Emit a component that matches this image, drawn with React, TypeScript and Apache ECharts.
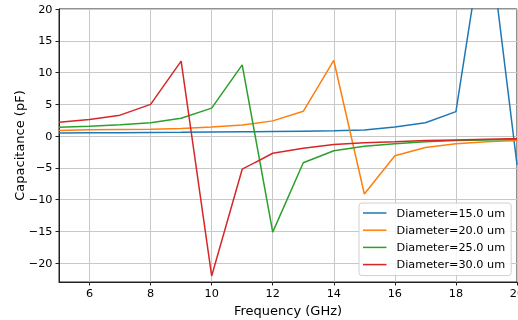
import React, { useEffect, useRef } from "react";
import * as echarts from "echarts";

const freq = [5, 6, 7, 8, 9, 10, 11, 12, 13, 14, 15, 16, 17, 18, 19, 20];
const d15 = [0.5, 0.52, 0.55, 0.58, 0.6, 0.63, 0.67, 0.72, 0.78, 0.86, 0.98, 1.45, 2.1, 3.85, 34.7, -4.5];
const d20 = [0.9, 1.0, 1.05, 1.1, 1.2, 1.45, 1.75, 2.4, 3.9, 11.9, -9.1, -3.1, -1.8, -1.2, -0.9, -0.7];
const d25 = [1.4, 1.55, 1.8, 2.1, 2.8, 4.4, 11.2, -15.1, -4.2, -2.3, -1.6, -1.2, -0.9, -0.7, -0.6, -0.5];
const d30 = [2.2, 2.6, 3.3, 5.0, 11.8, -22.0, -5.2, -2.7, -1.9, -1.3, -1.05, -0.9, -0.7, -0.6, -0.5, -0.4];
const seriesNames = ["Diameter=15.0 um", "Diameter=20.0 um", "Diameter=25.0 um", "Diameter=30.0 um"];
const colors = ["#1f77b4", "#ff7f0e", "#2ca02c", "#d62728"];
const xTicks = [6, 8, 10, 12, 14, 16, 18, 20];
const yTicks = [-20, -15, -10, -5, 0, 5, 10, 15, 20];
const xTitle = "Frequency (GHz)";
const yTitle = "Capacitance (pF)";

const FONT = "DejaVu Sans";

export default function App() {
  const ref = useRef<HTMLDivElement>(null);
  useEffect(() => {
    const chart = echarts.init(ref.current!, null, { renderer: "svg" });
    const all = [d15, d20, d25, d30];
    chart.setOption({
      animation: false,
      color: colors,
      grid: {
        left: 59,
        right: 1,
        top: 9,
        bottom: 38,
        show: true,
        borderColor: "#222",
        borderWidth: 1,
        containLabel: false,
        outerBoundsMode: "none",
      },
      graphic: [
        {
          type: "text",
          x: 19,
          y: 145.5,
          rotation: Math.PI / 2,
          style: {
            text: yTitle,
            fontFamily: FONT,
            fontSize: 13,
            fill: "#000",
            align: "center",
            verticalAlign: "middle",
          },
        },
      ],
      xAxis: {
        type: "value",
        min: 5,
        max: 20,
        name: xTitle,
        nameLocation: "middle",
        nameGap: 18,
        nameTextStyle: { fontFamily: FONT, fontSize: 13, color: "#000" },
        axisLine: { show: true, onZero: false, lineStyle: { color: "#222", width: 1 } },
        axisTick: { show: true, length: 3.5, customValues: xTicks, lineStyle: { color: "#222" } },
        axisLabel: {
          customValues: xTicks,
          fontFamily: FONT,
          fontSize: 11.25,
          color: "#000",
          margin: 6,
        },
        splitLine: { show: true, lineStyle: { color: "#c8c8c8", width: 1 } },
      },
      yAxis: {
        type: "value",
        min: -22.95,
        max: 20,
        axisLine: { show: true, lineStyle: { color: "#222", width: 1 } },
        axisTick: { show: true, length: 3.5, customValues: yTicks, lineStyle: { color: "#222" } },
        axisLabel: {
          customValues: yTicks,
          fontFamily: FONT,
          fontSize: 11.25,
          color: "#000",
          margin: 6.5,
          formatter: (v: number) => String(v).replace("-", "\u2212"),
        },
        splitLine: { show: true, lineStyle: { color: "#c8c8c8", width: 1 } },
      },
      legend: {
        orient: "vertical",
        left: 359,
        top: 203,
        padding: [3, 6, 4, 4],
        itemGap: 3.2,
        itemWidth: 23.5,
        itemHeight: 1.5,
        icon: "rect",
        backgroundColor: "rgba(255,255,255,0.85)",
        borderColor: "#d0d0d0",
        borderWidth: 1,
        borderRadius: 3,
        textStyle: { fontFamily: FONT, fontSize: 11.25, lineHeight: 14, color: "#000", padding: [0, 0, 0, 5] },
        data: seriesNames,
      },
      series: seriesNames.map((n, i) => ({
        name: n,
        type: "line",
        symbol: "none",
        data: freq.map((f, j) => [f, all[i][j]]),
        lineStyle: { width: 1.5, color: colors[i] },
        itemStyle: { color: colors[i] },
        clip: true,
      })),
    });
    return () => chart.dispose();
  }, []);
  return (
    <div
      ref={ref}
      style={{ position: "fixed", left: 0, top: 0, width: 518, height: 320 }}
    />
  );
}
